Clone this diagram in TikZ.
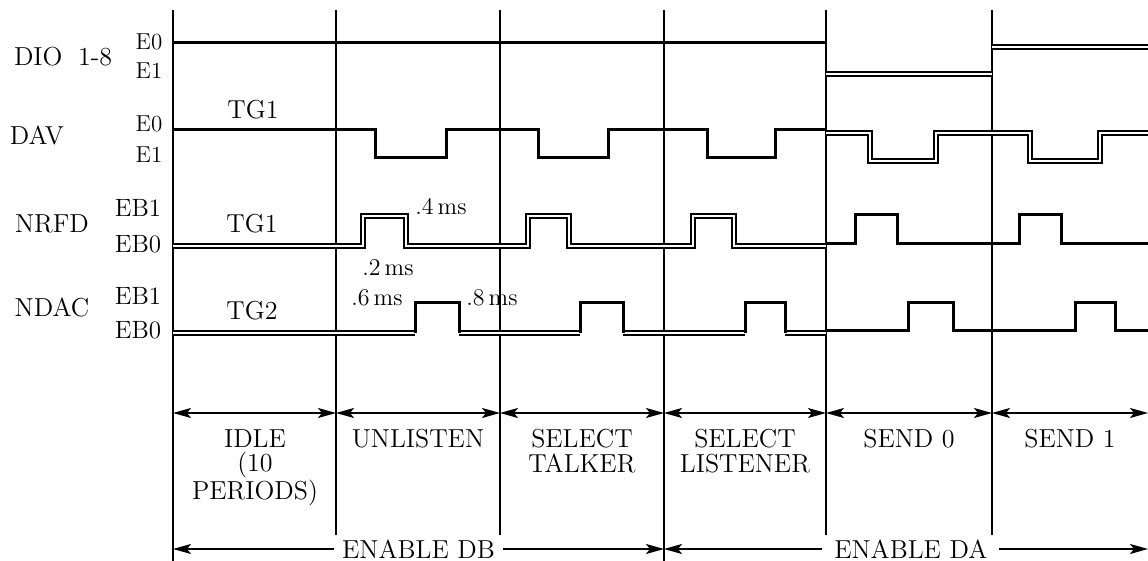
\documentclass[tikz,border=0pt]{standalone}
\usepackage{amsmath}
\usepackage{tikz}
\usetikzlibrary{arrows.meta}

\begin{document}
\begin{tikzpicture}[x=0.5pt,y=-0.5pt,
    every node/.append style={inner sep=0pt},
    wave/.style={black,line width=1.5pt},
    twin/.style={black,double,double distance=1.1pt,line width=1.05pt},
    grid/.style={black,line width=0.9pt},
    span/.style={black,line width=0.75pt,{Stealth[length=9pt,width=5pt,inset=2pt]}-{Stealth[length=9pt,width=5pt,inset=2pt]}},
    sig/.style={font=\fontsize{13}{15}\selectfont},
    lvl/.style={font=\fontsize{11.5}{13}\selectfont},
    lvlb/.style={font=\fontsize{12.5}{14}\selectfont},
    tm/.style={font=\fontsize{12}{14}\selectfont},
    sec/.style={font=\fontsize{13}{12.25}\selectfont,align=center,anchor=north}]
    \useasboundingbox (0,0) rectangle (1148,561);

    % section boundaries
    \foreach \x in {336,500,826,992} \draw [grid] (\x,10) -- (\x,535);
    \foreach \x in {173,664} \draw [grid] (\x,10) -- (\x,561);

    % DIO 1-8
    \draw [wave] (173,43) -- (826,43);
    \draw [twin] (826,74) -- (992,74);
    \draw [twin] (992,47) -- (1148,47);

    % DAV
    \draw [wave] (173,130) -| (375,158) -| (446,130) -| (538,158) -| (608,130) -| (707,158) -| (775,130) -- (826,130);
    \draw [twin] (826,133) -| (870,161) -| (936,133) -| (1030,161) -| (1100,133) -- (1148,133);

    % NRFD
    \draw [twin] (173,246) -| (363,216) -| (406,246) -| (528,216) -| (569,246) -| (693,216) -| (734,246) -- (826,246);
    \draw [wave] (826,244) -| (855,215) -| (897,244) -| (1019,215) -| (1061,244) -- (1148,244);

    % NDAC
    \draw [twin] (173,333) -- (415,333) (459,333) -- (580,333) (623,333) -- (745,333) (785,333) -- (826,333);
    \draw [wave] (415,333) |- (459,303) -- (459,333);
    \draw [wave] (580,333) |- (623,303) -- (623,333);
    \draw [wave] (745,333) |- (785,303) -- (785,333);
    \draw [wave] (826,331) -| (908,303) -| (953,331) -| (1075,303) -| (1115,331) -- (1148,331);

    % signal names and levels
    \node [sig] (dio) at (63,57) {DIO\hspace{0.6em}1-8};
    \node [lvl] (dioE0) at (149,42) {E0};
    \node [lvl] (dioE1) at (149,71) {E1};
    \node [sig] (dav) at (37,135) {DAV};
    \node [lvl] (davE0) at (149,124) {E0};
    \node [lvl] (davE1) at (149,155) {E1};
    \node [sig] (davTG) at (253,110) {TG1};
    \node [sig] (nrfd) at (52,224) {NRFD};
    \node [lvlb] (nrfdEB1) at (138,208) {EB1};
    \node [lvlb] (nrfdEB0) at (138,244) {EB0};
    \node [sig] (nrfdTG) at (252,224) {TG1};
    \node [sig] (ndac) at (52,307) {NDAC};
    \node [lvlb] (ndacEB1) at (138,296) {EB1};
    \node [lvlb] (ndacEB0) at (138,330) {EB0};
    \node [sig] (ndacTG) at (252,311) {TG2};

    % timings
    \node [tm] (t4) at (441,207) {.4\,ms};
    \node [tm] (t2) at (388,268) {.2\,ms};
    \node [tm] (t6) at (377,298) {.6\,ms};
    \node [tm] (t8) at (492,298) {.8\,ms};

    % phases
    \foreach \x [count=\i] in {173,336,500,664,826,992,1148} \coordinate (a\i) at (\x,413);
    \draw [span] (a1) -- (a2);
    \draw [span] (a2) -- (a3);
    \draw [span] (a3) -- (a4);
    \draw [span] (a4) -- (a5);
    \draw [span] (a5) -- (a6);
    \draw [span] (a6) -- (a7);
    \node [sec] (idle) at (255,429) {IDLE\\(10\\PERIODS)};
    \node [sec] (unlisten) at (418,429) {UNLISTEN};
    \node [sec] (seltalk) at (582,429) {SELECT\\TALKER};
    \node [sec] (sellist) at (745,429) {SELECT\\LISTENER};
    \node [sec] (send0) at (909,429) {SEND 0};
    \node [sec] (send1) at (1070,429) {SEND 1};

    % enables
    \coordinate (e1) at (173,549);
    \coordinate (e2) at (664,549);
    \coordinate (e3) at (1148,549);
    \draw [span] (e1) -- node [fill=white,inner xsep=4pt,font=\fontsize{13}{15}\selectfont] (endb) {ENABLE DB} (e2);
    \draw [span] (e2) -- node [pos=0.51,fill=white,inner xsep=6pt,font=\fontsize{13}{15}\selectfont] (enda) {ENABLE DA} (e3);
\end{tikzpicture}
\end{document}
